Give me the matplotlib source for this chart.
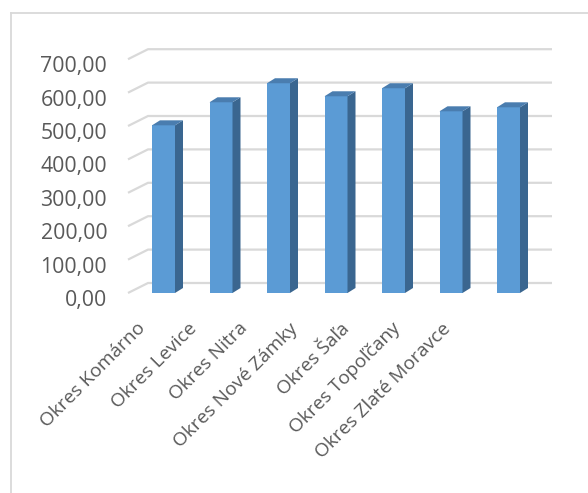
import matplotlib.pyplot as plt
from matplotlib.patches import Polygon
from matplotlib.transforms import ScaledTranslation

# data
districts = ['Okres Komárno', 'Okres Levice', 'Okres Nitra', 'Okres Nové Zámky',
             'Okres Šaľa', 'Okres Topoľčany', 'Okres Zlaté Moravce']
values = [502, 571, 628, 589, 613, 544, 556]
yticks = [0, 100, 200, 300, 400, 500, 600, 700]

W, H, DPI = 588, 493, 100
fig = plt.figure(figsize=(W / DPI, H / DPI), dpi=DPI)
plt.rcParams['font.family'] = ['Open Sans', 'DejaVu Sans']

# axes placed in pixel terms (front plane)
left, right, top, bottom = 128, 552, 30, 293
ax = fig.add_axes([left / W, 1 - bottom / H, (right - left) / W, (bottom - top) / H])
px_x = 57.5                    # pixels per category
px_y = 0.334                   # pixels per value unit
x0 = -(163.5 - left) / px_x
ax.set_xlim(x0, x0 + (right - left) / px_x)
ax.set_ylim(0, (bottom - top) / px_y)
for s in ax.spines.values():
    s.set_visible(False)
ax.set_facecolor('none')

# 3D depth offsets in data units
wall_dx, wall_dy = 20 / px_x, 10 / px_y
bar_dx, bar_dy = 8 / px_x, 5 / px_y
grid_col = '#D9D9D9'

for v in yticks:
    ax.plot([x0, x0 + wall_dx, ax.get_xlim()[1]], [v, v + wall_dy, v + wall_dy],
            color=grid_col, lw=1.6, zorder=1, solid_capstyle='butt', clip_on=False)

w = 0.4
front_col, side_col, top_col = '#5B9BD5', '#3A6690', '#4A7DAF'
ax.bar(range(len(values)), values, width=w, color=front_col, zorder=3)
for i, h in enumerate(values):
    r = i + w / 2
    l = i - w / 2
    ax.add_patch(Polygon([(r, 0), (r + bar_dx, bar_dy), (r + bar_dx, h + bar_dy), (r, h)],
                         closed=True, facecolor=side_col, edgecolor='none', zorder=3))
    ax.add_patch(Polygon([(l, h), (r, h), (r + bar_dx, h + bar_dy), (l + bar_dx, h + bar_dy)],
                         closed=True, facecolor=top_col, edgecolor='none', zorder=3))

# y labels
ax.set_yticks(yticks)
ax.set_yticklabels([f'{v:.2f}'.replace('.', ',') for v in yticks],
                   fontsize=15.3, color='#595959')
ax.tick_params(axis='y', length=0, pad=15)
for lbl in ax.get_yticklabels():
    lbl.set_transform(lbl.get_transform() + ScaledTranslation(0, -5 / DPI, fig.dpi_scale_trans))

# x labels (perspective makes them sit on a narrower spacing than the bars)
label_pos = [(-27 + 50.9 * i) / px_x for i in range(len(districts))]
ax.set_xticks(label_pos)
ax.set_xticklabels(districts, rotation=45, ha='right', rotation_mode='anchor',
                   fontsize=13.8, color='#595959')
ax.tick_params(axis='x', length=0, pad=19)

# chart border
fig.add_artist(plt.Line2D([11 / W, 1], [1 - 13 / H, 1 - 13 / H], color=grid_col, lw=1.3,
                          transform=fig.transFigure))
fig.add_artist(plt.Line2D([11 / W, 11 / W], [1 - 13 / H, 0], color=grid_col, lw=1.3,
                          transform=fig.transFigure))

fig.savefig('out.png', dpi=DPI)
